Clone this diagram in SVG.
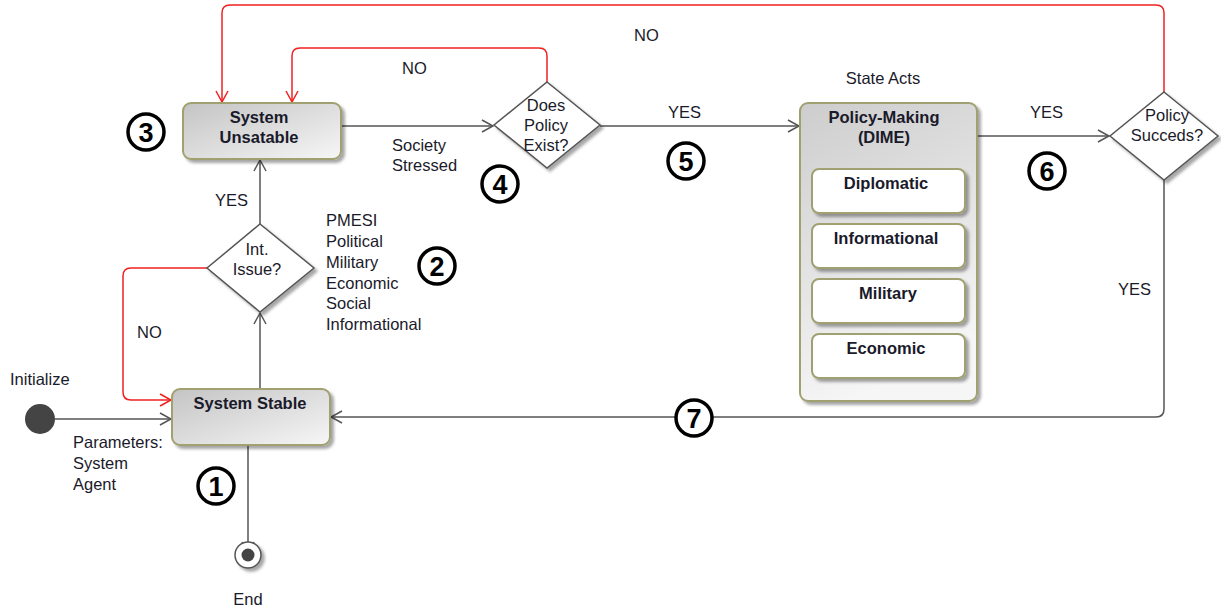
<svg xmlns="http://www.w3.org/2000/svg" width="1221" height="607" viewBox="0 0 1221 607">
<style>
text{font-family:"Liberation Sans",Arial,sans-serif;fill:#1a1a2a}
.t{font-size:16.5px}
.b{font-size:16.5px;font-weight:bold}
.c{text-anchor:middle}
.ln{fill:none;stroke:#555;stroke-width:1.5}
.rd{fill:none;stroke:#f02020;stroke-width:1.5}
.box{stroke:#a0a070;stroke-width:2}
.dia{fill:#fff;stroke:#555;stroke-width:1.5}
.num circle{fill:#fff;stroke:#000;stroke-width:3.5}
.num text{font-size:27px;font-weight:bold;text-anchor:middle;fill:#000}
</style>
<defs>
<linearGradient id="g1" x1="0" y1="0" x2="1" y2="1"><stop offset="0" stop-color="#c4c4c4"/><stop offset="1" stop-color="#f6f6f6"/></linearGradient>
<linearGradient id="g2" x1="0" y1="0" x2="0.3" y2="1"><stop offset="0" stop-color="#cdcdcd"/><stop offset="1" stop-color="#f6f6f6"/></linearGradient>
<filter id="sh" x="-10%" y="-10%" width="130%" height="130%"><feDropShadow dx="3" dy="3" stdDeviation="1.5" flood-color="#000" flood-opacity="0.35"/></filter>
<marker id="ag" markerWidth="14" markerHeight="14" refX="12" refY="7" orient="auto" markerUnits="userSpaceOnUse"><path d="M1,1 L12,7 L1,13" fill="none" stroke="#555" stroke-width="1.5"/></marker>
<marker id="ar" markerWidth="14" markerHeight="14" refX="12" refY="7" orient="auto" markerUnits="userSpaceOnUse"><path d="M1,1 L12,7 L1,13" fill="none" stroke="#f02020" stroke-width="1.5"/></marker>
</defs>

<g id="connectors">
<path class="ln" d="M55,419 H171" marker-end="url(#ag)"/>
<path class="ln" d="M248,446 V553" marker-end="url(#ag)"/>
<path class="ln" d="M260,389 V313" marker-end="url(#ag)"/>
<path class="ln" d="M260,224 V160" marker-end="url(#ag)"/>
<path class="rd" d="M207,268 H131 Q123,268 123,276 V392 Q123,400 131,400 H171" marker-end="url(#ar)"/>
<path class="ln" d="M342,126 H493" marker-end="url(#ag)"/>
<path class="rd" d="M547,82 V56 Q547,48 539,48 H300 Q292,48 292,56 V102" marker-end="url(#ar)"/>
<path class="ln" d="M600,126 H799" marker-end="url(#ag)"/>
<path class="ln" d="M978,136 H1109" marker-end="url(#ag)"/>
<path class="rd" d="M1164,92 V13 Q1164,5 1156,5 H230 Q222,5 222,13 V102" marker-end="url(#ar)"/>
<path class="ln" d="M1164,180 V409 Q1164,417 1156,417 H331" marker-end="url(#ag)"/>
</g>

<g id="labels">
<text class="t" x="10" y="385">Initialize</text>
<text class="t" x="73" y="448">Parameters:</text>
<text class="t" x="73" y="469">System</text>
<text class="t" x="73" y="490">Agent</text>
<text class="t c" x="248" y="605">End</text>
<text class="t" x="215" y="206">YES</text>
<text class="t" x="137" y="338">NO</text>
<text class="t" x="326" y="226">PMESI</text>
<text class="t" x="326" y="247">Political</text>
<text class="t" x="326" y="268">Military</text>
<text class="t" x="326" y="289">Economic</text>
<text class="t" x="326" y="309">Social</text>
<text class="t" x="326" y="330">Informational</text>
<text class="t" x="392" y="151">Society</text>
<text class="t" x="392" y="171">Stressed</text>
<text class="t" x="402" y="74">NO</text>
<text class="t" x="668" y="118">YES</text>
<text class="t" x="634" y="41">NO</text>
<text class="t c" x="883" y="84">State Acts</text>
<text class="t" x="1030" y="118">YES</text>
<text class="t" x="1118" y="295">YES</text>
</g>

<g id="start"><circle cx="40" cy="419" r="15" fill="#444"/></g>
<g id="end"><circle cx="248" cy="555" r="13" fill="#fff" stroke="#555" stroke-width="1.5" filter="url(#sh)"/><circle cx="248" cy="555" r="6.5" fill="#444"/></g>

<g id="system-stable">
<rect class="box" x="172" y="389" width="158" height="56" rx="8" fill="url(#g1)" filter="url(#sh)"/>
<text class="b c" x="250" y="409">System Stable</text>
</g>

<g id="system-unstable">
<rect class="box" x="183" y="103" width="158" height="56" rx="8" fill="url(#g1)" filter="url(#sh)"/>
<text class="b c" x="259" y="123">System</text>
<text class="b c" x="259" y="143">Unsatable</text>
</g>

<g id="int-issue">
<polygon class="dia" points="260,224 314,268 260,312 207,268" filter="url(#sh)"/>
<text class="t c" x="257" y="255">Int.</text>
<text class="t c" x="257" y="275">Issue?</text>
</g>

<g id="does-policy-exist">
<polygon class="dia" points="547,82 600,125 547,168 494,125" filter="url(#sh)"/>
<text class="t c" x="546" y="111">Does</text>
<text class="t c" x="546" y="131">Policy</text>
<text class="t c" x="546" y="151">Exist?</text>
</g>

<g id="policy-making">
<rect class="box" x="800" y="103" width="177" height="298" rx="8" fill="url(#g2)" filter="url(#sh)"/>
<text class="b c" x="884" y="123">Policy-Making</text>
<text class="b c" x="884" y="143">(DIME)</text>
<g id="diplomatic"><rect class="box" x="812" y="169" width="153" height="44" rx="7" fill="#fff" filter="url(#sh)"/><text class="b c" x="886" y="189">Diplomatic</text></g>
<g id="informational"><rect class="box" x="812" y="224" width="153" height="44" rx="7" fill="#fff" filter="url(#sh)"/><text class="b c" x="886" y="244">Informational</text></g>
<g id="military"><rect class="box" x="812" y="279" width="153" height="44" rx="7" fill="#fff" filter="url(#sh)"/><text class="b c" x="888" y="299">Military</text></g>
<g id="economic"><rect class="box" x="812" y="334" width="153" height="44" rx="7" fill="#fff" filter="url(#sh)"/><text class="b c" x="886" y="354">Economic</text></g>
</g>

<g id="policy-succeeds">
<polygon class="dia" points="1164,92 1218,136 1164,180 1110,136" filter="url(#sh)"/>
<text class="t c" x="1167" y="121">Policy</text>
<text class="t c" x="1167" y="141">Succeds?</text>
</g>

<g id="numbers">
<g class="num"><circle cx="216" cy="486" r="18"/><text x="216" y="496">1</text></g>
<g class="num"><circle cx="437" cy="266" r="18"/><text x="437" y="276">2</text></g>
<g class="num"><circle cx="146" cy="132" r="18"/><text x="146" y="142">3</text></g>
<g class="num"><circle cx="500" cy="184" r="18"/><text x="500" y="194">4</text></g>
<g class="num"><circle cx="686" cy="161" r="18"/><text x="686" y="171">5</text></g>
<g class="num"><circle cx="1047" cy="171" r="18"/><text x="1047" y="181">6</text></g>
<g class="num"><circle cx="694" cy="418" r="18"/><text x="694" y="428">7</text></g>
</g>
</svg>
